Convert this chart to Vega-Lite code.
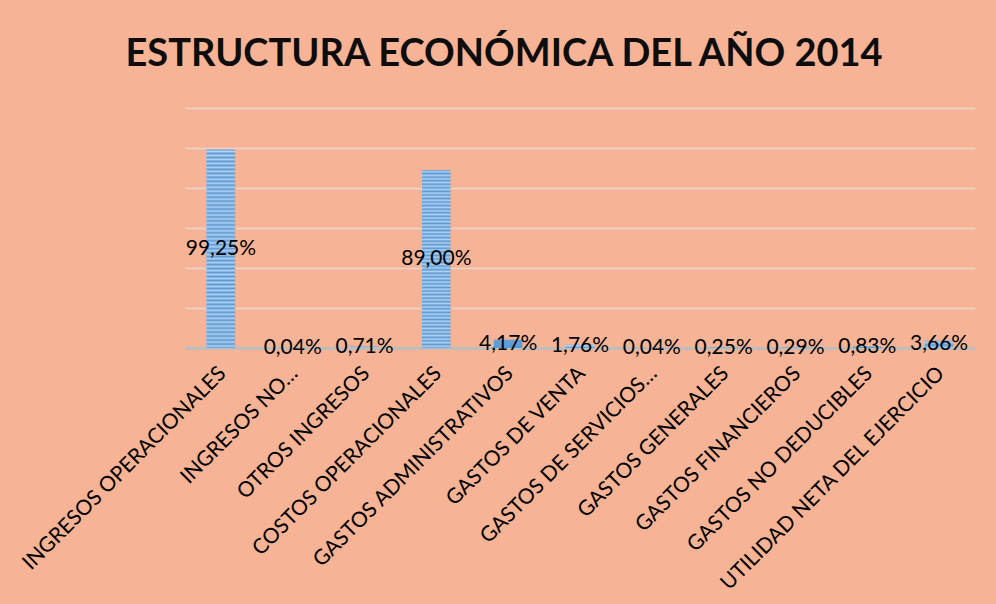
{
  "$schema": "https://vega.github.io/schema/vega-lite/v6.json",
  "autosize": {"type": "none"},
  "padding": {"left": 185, "top": 108, "right": 21, "bottom": 256},
  "width": 790,
  "height": 240,
  "background": "#F7B395",
  "title": {
    "text": "ESTRUCTURA ECONÓMICA DEL AÑO 2014",
    "font": "Lato",
    "fontSize": 38,
    "fontWeight": "bold",
    "color": "#0D0D0D",
    "anchor": "middle",
    "dx": -76,
    "baseline": "alphabetic",
    "offset": 4
  },
  "data": {
    "values": [
      {"cuenta": "INGRESOS OPERACIONALES", "valor": 0.9925},
      {"cuenta": "INGRESOS NO…", "valor": 0.0004},
      {"cuenta": "OTROS INGRESOS", "valor": 0.0071},
      {"cuenta": "COSTOS OPERACIONALES", "valor": 0.89},
      {"cuenta": "GASTOS ADMINISTRATIVOS", "valor": 0.0417},
      {"cuenta": "GASTOS DE VENTA", "valor": 0.0176},
      {"cuenta": "GASTOS DE SERVICIOS…", "valor": 0.0004},
      {"cuenta": "GASTOS GENERALES", "valor": 0.0025},
      {"cuenta": "GASTOS FINANCIEROS", "valor": 0.0029},
      {"cuenta": "GASTOS NO DEDUCIBLES", "valor": 0.0083},
      {"cuenta": "UTILIDAD NETA DEL EJERCICIO", "valor": 0.0366}
    ]
  },
  "encoding": {
    "x": {
      "field": "cuenta",
      "type": "nominal",
      "sort": null,
      "scale": {"paddingInner": 0.6, "paddingOuter": 0.3},
      "axis": {
        "title": null,
        "labelAngle": -45,
        "labelAlign": "right",
        "labelBaseline": "middle",
        "labelFont": "Lato",
        "labelFontSize": 21,
        "labelColor": "#000000",
        "labelPadding": 22,
        "labelOffset": 2,
        "labelLimit": 400,
        "ticks": false,
        "domainColor": "#BDBDBD",
        "domainWidth": 3,
        "grid": false
      }
    }
  },
  "layer": [
    {
      "mark": {
        "type": "bar",
        "color": {
          "gradient": "linear",
          "x1": 0, "y1": 0, "x2": 0, "y2": 1,
          "stops": [
            {"offset": 0, "color": "#5B9BD5"}, {"offset": 0.01, "color": "#B0D0F0"},
            {"offset": 0.02, "color": "#5B9BD5"}, {"offset": 0.03, "color": "#B0D0F0"},
            {"offset": 0.04, "color": "#5B9BD5"}, {"offset": 0.05, "color": "#B0D0F0"},
            {"offset": 0.06, "color": "#5B9BD5"}, {"offset": 0.07, "color": "#B0D0F0"},
            {"offset": 0.08, "color": "#5B9BD5"}, {"offset": 0.09, "color": "#B0D0F0"},
            {"offset": 0.10, "color": "#5B9BD5"}, {"offset": 0.11, "color": "#B0D0F0"},
            {"offset": 0.12, "color": "#5B9BD5"}, {"offset": 0.13, "color": "#B0D0F0"},
            {"offset": 0.14, "color": "#5B9BD5"}, {"offset": 0.15, "color": "#B0D0F0"},
            {"offset": 0.16, "color": "#5B9BD5"}, {"offset": 0.17, "color": "#B0D0F0"},
            {"offset": 0.18, "color": "#5B9BD5"}, {"offset": 0.19, "color": "#B0D0F0"},
            {"offset": 0.20, "color": "#5B9BD5"}, {"offset": 0.21, "color": "#B0D0F0"},
            {"offset": 0.22, "color": "#5B9BD5"}, {"offset": 0.23, "color": "#B0D0F0"},
            {"offset": 0.24, "color": "#5B9BD5"}, {"offset": 0.25, "color": "#B0D0F0"},
            {"offset": 0.26, "color": "#5B9BD5"}, {"offset": 0.27, "color": "#B0D0F0"},
            {"offset": 0.28, "color": "#5B9BD5"}, {"offset": 0.29, "color": "#B0D0F0"},
            {"offset": 0.30, "color": "#5B9BD5"}, {"offset": 0.31, "color": "#B0D0F0"},
            {"offset": 0.32, "color": "#5B9BD5"}, {"offset": 0.33, "color": "#B0D0F0"},
            {"offset": 0.34, "color": "#5B9BD5"}, {"offset": 0.35, "color": "#B0D0F0"},
            {"offset": 0.36, "color": "#5B9BD5"}, {"offset": 0.37, "color": "#B0D0F0"},
            {"offset": 0.38, "color": "#5B9BD5"}, {"offset": 0.39, "color": "#B0D0F0"},
            {"offset": 0.40, "color": "#5B9BD5"}, {"offset": 0.41, "color": "#B0D0F0"},
            {"offset": 0.42, "color": "#5B9BD5"}, {"offset": 0.43, "color": "#B0D0F0"},
            {"offset": 0.44, "color": "#5B9BD5"}, {"offset": 0.45, "color": "#B0D0F0"},
            {"offset": 0.46, "color": "#5B9BD5"}, {"offset": 0.47, "color": "#B0D0F0"},
            {"offset": 0.48, "color": "#5B9BD5"}, {"offset": 0.49, "color": "#B0D0F0"},
            {"offset": 0.50, "color": "#5B9BD5"}, {"offset": 0.51, "color": "#B0D0F0"},
            {"offset": 0.52, "color": "#5B9BD5"}, {"offset": 0.53, "color": "#B0D0F0"},
            {"offset": 0.54, "color": "#5B9BD5"}, {"offset": 0.55, "color": "#B0D0F0"},
            {"offset": 0.56, "color": "#5B9BD5"}, {"offset": 0.57, "color": "#B0D0F0"},
            {"offset": 0.58, "color": "#5B9BD5"}, {"offset": 0.59, "color": "#B0D0F0"},
            {"offset": 0.60, "color": "#5B9BD5"}, {"offset": 0.61, "color": "#B0D0F0"},
            {"offset": 0.62, "color": "#5B9BD5"}, {"offset": 0.63, "color": "#B0D0F0"},
            {"offset": 0.64, "color": "#5B9BD5"}, {"offset": 0.65, "color": "#B0D0F0"},
            {"offset": 0.66, "color": "#5B9BD5"}, {"offset": 0.67, "color": "#B0D0F0"},
            {"offset": 0.68, "color": "#5B9BD5"}, {"offset": 0.69, "color": "#B0D0F0"},
            {"offset": 0.70, "color": "#5B9BD5"}, {"offset": 0.71, "color": "#B0D0F0"},
            {"offset": 0.72, "color": "#5B9BD5"}, {"offset": 0.73, "color": "#B0D0F0"},
            {"offset": 0.74, "color": "#5B9BD5"}, {"offset": 0.75, "color": "#B0D0F0"},
            {"offset": 0.76, "color": "#5B9BD5"}, {"offset": 0.77, "color": "#B0D0F0"},
            {"offset": 0.78, "color": "#5B9BD5"}, {"offset": 0.79, "color": "#B0D0F0"},
            {"offset": 0.80, "color": "#5B9BD5"}, {"offset": 0.81, "color": "#B0D0F0"},
            {"offset": 0.82, "color": "#5B9BD5"}, {"offset": 0.83, "color": "#B0D0F0"},
            {"offset": 0.84, "color": "#5B9BD5"}, {"offset": 0.85, "color": "#B0D0F0"},
            {"offset": 0.86, "color": "#5B9BD5"}, {"offset": 0.87, "color": "#B0D0F0"},
            {"offset": 0.88, "color": "#5B9BD5"}, {"offset": 0.89, "color": "#B0D0F0"},
            {"offset": 0.90, "color": "#5B9BD5"}, {"offset": 0.91, "color": "#B0D0F0"},
            {"offset": 0.92, "color": "#5B9BD5"}, {"offset": 0.93, "color": "#B0D0F0"},
            {"offset": 0.94, "color": "#5B9BD5"}, {"offset": 0.95, "color": "#B0D0F0"},
            {"offset": 0.96, "color": "#5B9BD5"}, {"offset": 0.97, "color": "#B0D0F0"},
            {"offset": 0.98, "color": "#5B9BD5"}, {"offset": 0.99, "color": "#B0D0F0"},
            {"offset": 1, "color": "#5B9BD5"}
          ]
        }
      },
      "encoding": {
        "y": {
          "field": "valor",
          "type": "quantitative",
          "scale": {"domain": [0, 1.2], "nice": false},
          "axis": {
            "title": null,
            "labels": false,
            "ticks": false,
            "domain": false,
            "grid": true,
            "gridColor": "#E6D7D0",
            "gridWidth": 1.5,
            "values": [0, 0.2, 0.4, 0.6, 0.8, 1.0, 1.2]
          }
        }
      }
    },
    {
      "mark": {
        "type": "text",
        "font": "Lato",
        "fontSize": 21,
        "color": "#000000",
        "baseline": "middle",
        "align": "center"
      },
      "encoding": {
        "y": {
          "field": "valor",
          "type": "quantitative",
          "scale": {"domain": [0, 2.4], "nice": false},
          "axis": null
        },
        "text": {"field": "valor", "type": "quantitative", "format": ".2%"}
      }
    }
  ],
  "resolve": {"scale": {"y": "independent"}},
  "config": {
    "view": {"stroke": null},
    "locale": {
      "number": {
        "decimal": ",",
        "thousands": ".",
        "grouping": [3],
        "currency": ["", " €"]
      }
    }
  }
}
